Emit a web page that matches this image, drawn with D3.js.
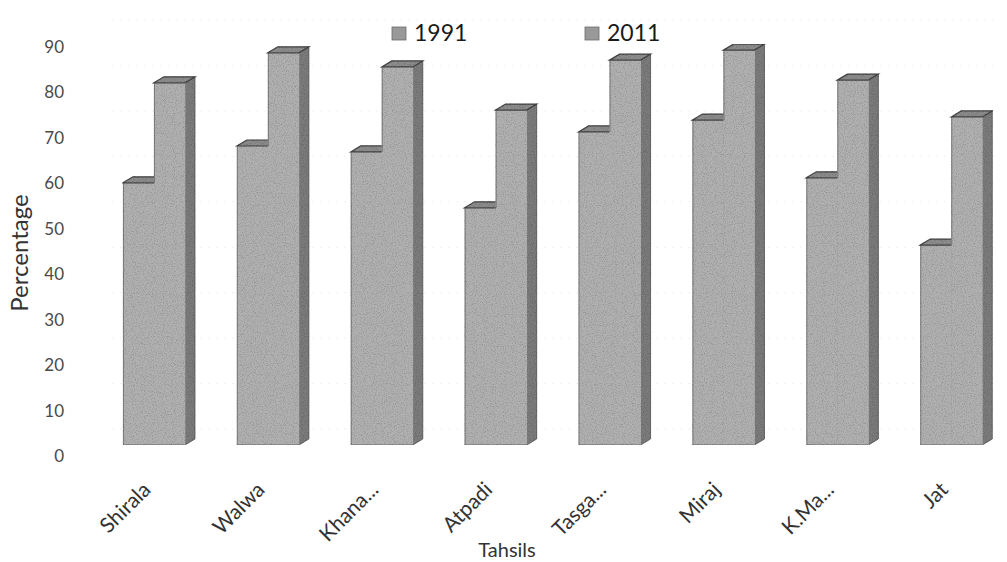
<!DOCTYPE html>
<html>
<head>
<meta charset="utf-8">
<script src="https://cdn.jsdelivr.net/npm/d3@7"></script>
<style>
  html, body { margin: 0; padding: 0; background: #fff; }
  svg { display: block; }
  text { font-family: Lato, "Open Sans", "DejaVu Sans", sans-serif; }
</style>
</head>
<body>
<svg id="chart" width="1007" height="562"></svg>
<script>
// ---- data ----
const categories = ["Shirala", "Walwa", "Khana...", "Atpadi", "Tasga...", "Miraj", "K.Ma...", "Jat"];
const seriesNames = ["1991", "2011"];
const values1991 = [57.7, 65.8, 64.5, 52.2, 68.9, 71.5, 58.8, 44.0];
const values2011 = [79.7, 86.3, 83.2, 73.7, 84.7, 86.9, 80.3, 72.2];
const yTicks = [0, 10, 20, 30, 40, 50, 60, 70, 80, 90];
const xTitle = "Tahsils";
const yTitle = "Percentage";

const rows = categories.map((c, i) => ({ cat: c, "1991": values1991[i], "2011": values2011[i] }));

const svg = d3.select("#chart");

// light noise filter to mimic scanned texture
const defs = svg.append("defs");
const f = defs.append("filter").attr("id", "grain").attr("x", 0).attr("y", 0).attr("width", 1).attr("height", 1);
f.append("feTurbulence").attr("type", "fractalNoise").attr("baseFrequency", 0.9).attr("numOctaves", 2).attr("seed", 3).attr("result", "noise");
f.append("feColorMatrix").attr("in", "noise").attr("type", "matrix")
  .attr("values", "0 0 0 0 0  0 0 0 0 0  0 0 0 0 0  0 0 0 -0.9 0.5").attr("result", "dark");
f.append("feComposite").attr("in", "dark").attr("in2", "SourceGraphic").attr("operator", "in").attr("result", "darkIn");
f.append("feMerge").selectAll("feMergeNode").data(["SourceGraphic", "darkIn"]).join("feMergeNode").attr("in", d => d);

// ---- scales ----
const step = 113.9;
const x = d3.scaleBand().domain(categories).range([97, 97 + step * categories.length]).padding(0);
const clusterW = 62;
const x1 = d3.scaleBand().domain(seriesNames).range([0, clusterW]).padding(0);
const y = d3.scaleLinear().domain([0, 90]).range([445, 445 - 90 * 4.544]);
const dx = 10, dy = 6;

const clusterLeft = c => x(c) + (x.bandwidth() - clusterW) / 2;

// faint back-wall gridlines
svg.append("g").selectAll("line").data(yTicks).join("line")
  .attr("x1", 112).attr("x2", 1000)
  .attr("y1", d => y(d) - 16).attr("y2", d => y(d) - 16)
  .attr("stroke", "#f0f0f0").attr("stroke-width", 1).attr("stroke-dasharray", "2,6");

// ---- bars ----
const bars = svg.append("g").attr("filter", "url(#grain)");
rows.forEach(r => {
  seriesNames.forEach((s, si) => {
    const bx = clusterLeft(r.cat) + x1(s);
    const bw = x1.bandwidth();
    const yt = y(r[s]);
    const yb = y(0);
    const g = bars.append("g");
    // side face
    g.append("path")
      .attr("d", `M${bx + bw},${yb} L${bx + bw + dx},${yb - dy} L${bx + bw + dx},${yt - dy} L${bx + bw},${yt} Z`)
      .attr("fill", "#7c7c7c").attr("stroke", "#505050").attr("stroke-width", 0.8);
    // front face
    g.append("rect")
      .attr("x", bx).attr("y", yt).attr("width", bw + 0.5).attr("height", yb - yt)
      .attr("fill", "#b1b1b1");
    // left edge (outer edge of the 1991 bar, and step of the 2011 bar above the 1991 bar)
    const edgeBottom = si === 0 ? yb : y(r[seriesNames[0]]);
    g.append("line").attr("x1", bx + 0.5).attr("x2", bx + 0.5).attr("y1", yt).attr("y2", edgeBottom)
      .attr("stroke", "#7c7c7c").attr("stroke-width", 1);
    // bottom edge
    g.append("line").attr("x1", bx).attr("x2", bx + bw).attr("y1", yb).attr("y2", yb)
      .attr("stroke", "#6a6a6a").attr("stroke-width", 1);
    // top face
    g.append("path")
      .attr("d", `M${bx},${yt} L${bx + dx},${yt - dy} L${bx + bw + dx},${yt - dy} L${bx + bw},${yt} Z`)
      .attr("fill", "#8c8c8c").attr("stroke", "#444", ).attr("stroke-width", 1.2);
  });
});

// ---- y axis labels ----
const yAxis = d3.axisLeft(y).tickValues(yTicks).tickSize(0).tickPadding(0).tickFormat(d3.format("d"));
const ya = svg.append("g").attr("transform", "translate(64,11)").call(yAxis);
ya.select(".domain").remove();
ya.selectAll("text").attr("font-size", 17).attr("fill", "#4a4a4a")
  .style("font-family", "Lato, 'Open Sans', sans-serif");

// ---- x category labels ----
svg.append("g").selectAll("text").data(categories).join("text")
  .attr("transform", d => `translate(${clusterLeft(d) + clusterW / 2 - 2},491) rotate(-45)`)
  .attr("text-anchor", "end")
  .attr("font-size", 21).attr("fill", "#333")
  .text(d => d);

// ---- axis titles ----
svg.append("text").attr("x", 507).attr("y", 557).attr("text-anchor", "middle")
  .attr("font-size", 20).attr("fill", "#333").text(xTitle);
svg.append("text").attr("transform", "translate(28,253) rotate(-90)").attr("text-anchor", "middle")
  .attr("font-size", 24).attr("fill", "#333").text(yTitle);

// ---- legend ----
const legendX = [392, 585];
const lg = svg.append("g").selectAll("g").data(seriesNames).join("g")
  .attr("transform", (d, i) => `translate(${legendX[i]},27)`);
lg.append("rect").attr("width", 14).attr("height", 13).attr("fill", "#999").attr("stroke", "#6a6a6a").attr("stroke-width", 0.8);
lg.append("text").attr("x", 22).attr("y", 14).attr("font-size", 23).attr("fill", "#1a1a1a").text(d => d);
</script>
</body>
</html>
